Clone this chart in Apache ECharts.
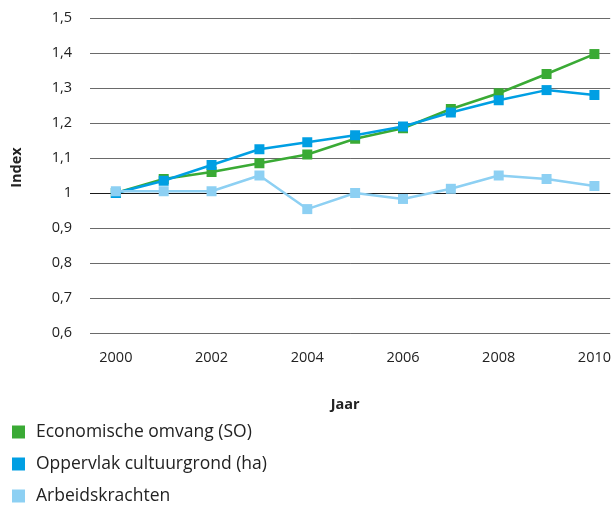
<!DOCTYPE html>
<html>
<head>
<meta charset="utf-8">
<script src="https://cdn.jsdelivr.net/npm/echarts@6/dist/echarts.min.js"></script>
<style>
    html, body { margin: 0; padding: 0; background: #fff; }
    #lijn { width: 614px; height: 506px; }
</style>
</head>
<body>
<div id="lijn"></div>
<script>
var jaren = [2000, 2001, 2002, 2003, 2004, 2005, 2006, 2007, 2008, 2009, 2010];
var jaarLabels = [2000, 2002, 2004, 2006, 2008, 2010];
var economischeOmvang = [1.00, 1.04, 1.06, 1.085, 1.11, 1.155, 1.185, 1.24, 1.285, 1.34, 1.397];
var oppervlakCultuurgrond = [1.00, 1.035, 1.08, 1.125, 1.145, 1.165, 1.19, 1.23, 1.265, 1.294, 1.28];
var arbeidskrachten = [1.005, 1.005, 1.005, 1.05, 0.954, 1.00, 0.983, 1.012, 1.05, 1.04, 1.02];
var seriesNamen = ['Economische omvang (SO)', 'Oppervlak cultuurgrond (ha)', 'Arbeidskrachten'];
var kleuren = ['#3aaa35', '#009fe3', '#8dd0f3'];

function lijn() {
    var myChart = echarts.init(document.getElementById('lijn'));
    var reeksen = [economischeOmvang, oppervlakCultuurgrond, arbeidskrachten];
    var fontFam = '"Open Sans", "Noto Sans", sans-serif';

    var seriesArr = reeksen.map(function (waarden, i) {
        var s = {
            name: seriesNamen[i],
            type: 'line',
            data: jaren.map(function (j, k) { return [j, waarden[k]]; }),
            symbol: 'rect',
            symbolSize: 10,
            lineStyle: { color: kleuren[i], width: 2.5 },
            itemStyle: { color: kleuren[i] },
            z: 3 + i
        };
        if (i === 0) {
            // zwarte basislijn op 1
            s.markLine = {
                silent: true,
                symbol: 'none',
                label: { show: false },
                lineStyle: { color: '#1a1a1a', type: 'solid', width: 1.2 },
                data: [{ yAxis: 1 }],
                z: 1
            };
        }
        return s;
    });

    // één legenda per reeks, onder elkaar
    var legendes = seriesNamen.map(function (naam, i) {
        return {
            orient: 'vertical',
            left: 12,
            top: 423 + i * 32,
            padding: 0,
            itemWidth: 13,
            itemHeight: 13,
            itemGap: 0,
            icon: 'rect',
            data: [naam],
            textStyle: { color: '#222', fontSize: 17.5, fontFamily: fontFam, padding: [0, 0, 0, 6] }
        };
    });

    var option = {
        animation: false,
        textStyle: { fontFamily: fontFam },
        legend: legendes,
        grid: {
            left: 90,
            right: 0,
            top: 18,
            bottom: 173,
            containLabel: false
        },
        xAxis: {
            type: 'value',
            min: 1999.46,
            max: 2010.33,
            name: 'Jaar',
            nameLocation: 'middle',
            nameGap: 64,
            nameTextStyle: { color: '#222', fontSize: 14.5, fontWeight: 'bold', fontFamily: fontFam, padding: [0, 10, 0, 0] },
            axisLine: { show: false },
            axisTick: { show: false },
            splitLine: { show: false },
            axisLabel: {
                customValues: jaarLabels,
                color: '#222',
                fontSize: 14.5,
                margin: 17,
                formatter: function (v) { return String(v); }
            }
        },
        yAxis: {
            type: 'value',
            min: 0.6,
            max: 1.5,
            interval: 0.1,
            name: 'Index',
            nameLocation: 'middle',
            nameGap: 66,
            nameRotate: 90,
            nameTextStyle: { color: '#222', fontSize: 14.5, fontWeight: 'bold', fontFamily: fontFam, padding: [0, 0, 0, 16] },
            axisLine: { show: false },
            axisTick: { show: false },
            axisLabel: {
                color: '#222',
                fontSize: 14.5,
                margin: 18,
                formatter: function (v) {
                    var r = Math.round(v * 10) / 10;
                    return String(r).replace('.', ',');
                }
            },
            splitLine: { lineStyle: { color: '#6a6a6a', width: 1 } }
        },
        series: seriesArr
    };
    myChart.setOption(option);
    window.addEventListener('resize', function () {
        myChart.resize();
    });
}

lijn();
</script>
</body>
</html>
